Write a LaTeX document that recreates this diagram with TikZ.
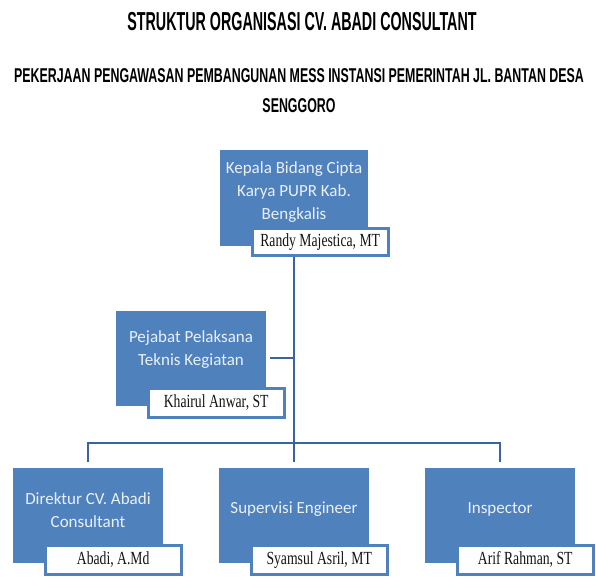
\documentclass[tikz,border=0pt]{standalone}
\usepackage{fontspec}
\usetikzlibrary{positioning}
\setmainfont{Carlito}
\newfontfamily\titlefont[FakeStretch=0.55]{Liberation Sans}
\newfontfamily\subtitlefont[FakeStretch=0.62]{Liberation Sans}
\newfontfamily\namefont[FakeStretch=0.74]{Liberation Serif}
\definecolor{boxblue}{RGB}{79,129,189}
\definecolor{lineblue}{RGB}{58,100,160}
\definecolor{boxtext}{RGB}{234,240,249}
\definecolor{nametext}{RGB}{20,20,20}

\begin{document}
\begin{tikzpicture}[x=1pt, y=-1pt,
    unit/.style={fill=boxblue, minimum width=150pt, minimum height=95pt, inner sep=0pt},
    unittext/.style={text=boxtext, font=\fontsize{17}{23}\selectfont, align=center},
    tag/.style={draw=boxblue, line width=3pt, fill=white, minimum width=136pt, minimum height=29pt, inner sep=0pt, font=\namefont\fontsize{18.5}{20}\selectfont, text=nametext},
    link/.style={draw=lineblue, line width=2.8pt}]
    \useasboundingbox (0,0) rectangle (596,578);

    % judul
    \node[font=\titlefont\bfseries\fontsize{26}{30}\selectfont] (title) at (302,22) {STRUKTUR ORGANISASI CV. ABADI CONSULTANT};
    \node[font=\subtitlefont\bfseries\fontsize{20}{30}\selectfont, align=center] (subtitle) at (299,91) {PEKERJAAN PENGAWASAN PEMBANGUNAN MESS INSTANSI PEMERINTAH JL. BANTAN DESA\\SENGGORO};

    % kotak jabatan
    \node[unit, minimum width=148pt, minimum height=96pt] (kepala) at (294,198) {};
    \node[unittext] (kepala-t) at ([yshift=6pt]kepala.center) {Kepala Bidang Cipta\\Karya PUPR Kab.\\Bengkalis};
    \node[unit] (pejabat) at (191,358) {};
    \node[unittext] (pejabat-t) at ([yshift=8pt]pejabat.center) {Pejabat Pelaksana\\Teknis Kegiatan};
    \node[unit] (direktur) at (88,515) {};
    \node[unittext] (direktur-t) at ([yshift=5pt]direktur.center) {Direktur CV. Abadi\\Consultant};
    \node[unit] (supervisi) at (294,515) {};
    \node[unittext] (supervisi-t) at ([yshift=6pt]supervisi.center) {Supervisi Engineer};
    \node[unit] (inspektor) at (500,515) {};
    \node[unittext] (inspektor-t) at ([yshift=6pt]inspektor.center) {Inspector};

    % garis
    \coordinate (split) at (294,443);
    \draw[link, shorten >=5pt] (kepala.south) -- (supervisi.north);
    \draw[link, shorten <=4pt] (pejabat.east) -- (pejabat.east -| kepala.south);
    \draw[link, shorten <=5pt, shorten >=5pt] (direktur.north) -- (direktur.north |- split) -- (inspektor.north |- split) -- (inspektor.north);

    % nama
    \node[tag, minimum height=27pt] (kepala-n) at ([xshift=-48pt,yshift=4pt]kepala.south east) {Randy Majestica, MT};
    \node[tag] (pejabat-n) at ([xshift=-50pt,yshift=3pt]pejabat.south east) {Khairul Anwar, ST};
    \node[tag] (direktur-n) at ([xshift=-50pt,yshift=3pt]direktur.south east) {Abadi, A.Md};
    \node[tag] (supervisi-n) at ([xshift=-50pt,yshift=3pt]supervisi.south east) {Syamsul Asril, MT};
    \node[tag] (inspektor-n) at ([xshift=-50pt,yshift=3pt]inspektor.south east) {Arif Rahman, ST};
\end{tikzpicture}
\end{document}
